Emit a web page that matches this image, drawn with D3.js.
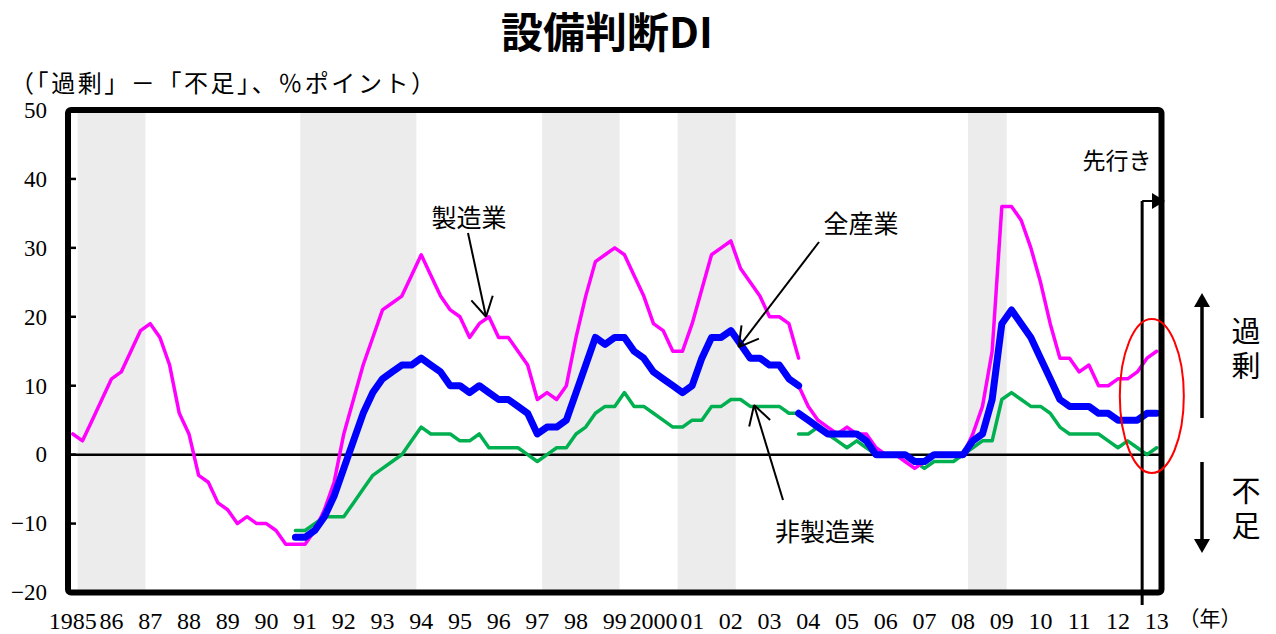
<!doctype html>
<html>
<head>
<meta charset="utf-8">
<style>
  body { margin: 0; background: #fff; }
  text.num { font-family: "Liberation Serif", "DejaVu Serif", serif; }
  text.jp { font-family: "Noto Sans CJK JP", sans-serif; }
</style>
</head>
<body>
<script src="https://cdn.jsdelivr.net/npm/d3@7"></script>
<script>
  // quarterly DI, 1985Q1 .. 2013Q1 (last point = forecast)
  var yearLabels = ['1985', '86', '87', '88', '89', '90', '91', '92', '93', '94', '95', '96', '97', '98',
                    '99', '2000', '01', '02', '03', '04', '05', '06', '07', '08', '09', '10', '11', '12', '13'];
  var yTicks = [50, 40, 30, 20, 10, 0, -10, -20];

  // recession periods (shaded)
  var recessions = [['1985Q2', '1986Q4'], ['1991Q1', '1993Q4'], ['1997Q2', '1999Q1'],
                    ['2000Q4', '2002Q1'], ['2008Q2', '2009Q1']];

  // old basis (to 2003Q4) and new basis (from 2003Q4)
  var mfgOld = [3, 2, 5, 8, 11, 12, 15, 18, 19, 17, 13, 6, 3, -3, -4, -7, -8, -10, -9, -10,
                -10, -11, -13, -13, -13, -11, -8, -4, 3, 8, 13, 17, 21, 22, 23, 26, 29, 26, 23, 21,
                20, 17, 19, 20, 17, 17, 15, 13, 8, 9, 8, 10, 17, 23, 28, 29, 30, 29, 26, 23,
                19, 18, 15, 15, 19, 24, 29, 30, 31, 27, 25, 23, 20, 20, 19, 14];
  var allOld = [-12, -12, -11, -9, -6, -2, 2, 6, 9, 11, 12, 13, 13, 14, 13, 12, 10, 10, 9, 10,
                9, 8, 8, 7, 6, 3, 4, 4, 5, 9, 13, 17, 16, 17, 17, 15, 14, 12, 11, 10,
                9, 10, 14, 17, 17, 18, 16, 14, 14, 13, 13, 11, 10];
  var nonOld = [-11, -11, -10, -9, -9, -9, -7, -5, -3, -2, -1, 0, 2, 4, 3, 3, 3, 2, 2, 3,
                1, 1, 1, 1, 0, -1, 0, 1, 1, 3, 4, 6, 7, 7, 9, 7, 7, 6, 5, 4,
                4, 5, 5, 7, 7, 8, 8, 7, 7, 7, 7, 6, 6];
  var mfgNew = [10, 7, 5, 4, 3, 4, 3, 3, 1, 0, 0, -1, -2, -1, 0, 0, 0, 0, 3, 7,
                15, 36, 36, 34, 30, 25, 19, 14, 14, 12, 13, 10, 10, 11, 11, 12, 14, 15];
  var allNew = [6, 5, 4, 3, 3, 3, 3, 2, 0, 0, 0, 0, -1, -1, 0, 0, 0, 0, 2, 3,
                8, 19, 21, 19, 17, 14, 11, 8, 7, 7, 7, 6, 6, 5, 5, 5, 6, 6];
  var nonNew = [3, 3, 4, 3, 2, 1, 2, 1, 0, 0, 0, 0, -1, -2, -1, -1, -1, 0, 1, 2,
                2, 8, 9, 8, 7, 7, 6, 4, 3, 3, 3, 3, 2, 1, 2, 1, 0, 1];

  var series = [
    {values: nonOld, start: '1990Q4', color: '#00B050', width: 3.5},
    {values: nonNew, start: '2003Q4', color: '#00B050', width: 3.5},
    {values: mfgOld, start: '1985Q1', color: '#FF00FF', width: 3.5},
    {values: mfgNew, start: '2003Q4', color: '#FF00FF', width: 3.5},
    {values: allOld, start: '1990Q4', color: '#0000FF', width: 7},
    {values: allNew, start: '2003Q4', color: '#0000FF', width: 7}
  ];

  var qIndex = function (s) {
    return (+s.slice(0, 4) - 1985) * 4 + (+s.slice(5) - 1);
  };

  var width = 1276, height = 634;
  var plotL = 68, plotR = 1161.5, plotT = 110, plotB = 592.5;

  var svg = d3.select('body').append('svg')
      .attr('width', width)
      .attr('height', height);

  var x = d3.scaleLinear().domain([-0.5, 112.5]).range([plotL, plotR]);
  var y = d3.scaleLinear().domain([-20, 50]).range([plotB, plotT]);

  // shaded bands
  svg.selectAll('rect.band')
      .data(recessions)
    .enter().append('rect')
      .attr('class', 'band')
      .attr('x', function (d) { return x(qIndex(d[0]) - 0.5); })
      .attr('width', function (d) { return x(qIndex(d[1]) + 0.5) - x(qIndex(d[0]) - 0.5); })
      .attr('y', plotT)
      .attr('height', plotB - plotT)
      .attr('fill', '#ececec');

  // zero line
  svg.append('line')
      .attr('x1', plotL).attr('x2', plotR)
      .attr('y1', y(0)).attr('y2', y(0))
      .attr('stroke', '#000').attr('stroke-width', 2.5);

  var line = d3.line()
      .x(function (d) { return x(d.q); })
      .y(function (d) { return y(d.v); });

  svg.selectAll('path.series')
      .data(series)
    .enter().append('path')
      .attr('class', 'series')
      .attr('d', function (s) {
        var q0 = qIndex(s.start);
        return line(s.values.map(function (v, i) { return {q: q0 + i, v: v}; }));
      })
      .attr('fill', 'none')
      .attr('stroke', function (s) { return s.color; })
      .attr('stroke-width', function (s) { return s.width; })
      .attr('stroke-linejoin', 'round')
      .attr('stroke-linecap', 'round');

  // plot border + inner ticks
  svg.append('rect')
      .attr('x', plotL).attr('y', plotT)
      .attr('width', plotR - plotL).attr('height', plotB - plotT)
      .attr('rx', 3)
      .attr('fill', 'none').attr('stroke', '#000').attr('stroke-width', 6);

  svg.selectAll('line.ytick')
      .data(yTicks.slice(1, -1))
    .enter().append('line')
      .attr('x1', plotL).attr('x2', plotL + 8)
      .attr('y1', function (d) { return y(d); })
      .attr('y2', function (d) { return y(d); })
      .attr('stroke', '#000').attr('stroke-width', 2.5);

  svg.selectAll('text.ylab')
      .data(yTicks)
    .enter().append('text')
      .attr('class', 'num')
      .attr('x', 47)
      .attr('y', function (d) { return y(d); })
      .attr('dy', '0.34em')
      .attr('text-anchor', 'end')
      .style('font-size', '23px')
      .text(function (d) { return d < 0 ? '\u2212' + (-d) : d; });

  svg.selectAll('text.xlab')
      .data(yearLabels)
    .enter().append('text')
      .attr('class', 'num')
      .attr('x', function (d, i) { return x(i * 4); })
      .attr('y', 621)
      .attr('dy', '0.34em')
      .attr('text-anchor', 'middle')
      .style('font-size', '24px')
      .text(function (d) { return d; });

  svg.append('text')
      .attr('class', 'jp')
      .attr('x', 1210).attr('y', 618).attr('dy', '0.36em')
      .attr('text-anchor', 'middle')
      .style('font-size', '21px')
      .text('（年）');

  // titles
  svg.append('text')
      .attr('class', 'jp')
      .attr('x', 607).attr('y', 33).attr('dy', '0.36em')
      .attr('text-anchor', 'middle')
      .style('font-size', '42px').style('font-weight', 'bold')
      .text('設備判断DI');

  svg.append('text')
      .attr('class', 'jp')
      .attr('x', 10).attr('y', 83).attr('dy', '0.36em')
      .attr('textLength', 425).attr('lengthAdjust', 'spacing')
      .style('font-size', '24px')
      .text('（「過剰」－「不足」、％ポイント）');

  // callouts
  var arrowHead = function (g, x1, y1, x2, y2, len, ang) {
    var a = Math.atan2(y1 - y2, x1 - x2);
    [-ang, ang].forEach(function (da) {
      g.append('line')
          .attr('x1', x2).attr('y1', y2)
          .attr('x2', x2 + len * Math.cos(a + da))
          .attr('y2', y2 + len * Math.sin(a + da))
          .attr('stroke', '#000').attr('stroke-width', 2);
    });
  };

  var callouts = [
    {label: '製造業', tx: 469, ty: 218, x1: 468, y1: 233, q: 42.7, v: 20},
    {label: '全産業', tx: 861, ty: 224, x1: 819, y1: 242, q: 68.8, v: 15.6},
    {label: '非製造業', tx: 825, ty: 532, x1: 783, y1: 500, q: 70.4, v: 7.2}
  ];

  callouts.forEach(function (c) {
    var g = svg.append('g');
    var x2 = x(c.q), y2 = y(c.v);
    g.append('line')
        .attr('x1', c.x1).attr('y1', c.y1)
        .attr('x2', x2).attr('y2', y2)
        .attr('stroke', '#000').attr('stroke-width', 2);
    arrowHead(g, c.x1, c.y1, x2, y2, 22, 0.52);
    g.append('text')
        .attr('class', 'jp')
        .attr('x', c.tx).attr('y', c.ty).attr('dy', '0.36em')
        .attr('text-anchor', 'middle')
        .style('font-size', '25px')
        .text(c.label);
  });

  // forecast marker
  var fx = x(110.5);
  svg.append('line')
      .attr('x1', fx).attr('x2', fx)
      .attr('y1', 201).attr('y2', 605)
      .attr('stroke', '#000').attr('stroke-width', 3);
  svg.append('line')
      .attr('x1', fx).attr('x2', 1156)
      .attr('y1', 201).attr('y2', 201)
      .attr('stroke', '#000').attr('stroke-width', 2);
  svg.append('path')
      .attr('d', 'M1152,193 L1165,201 L1152,209 Z')
      .attr('fill', '#000');
  svg.append('text')
      .attr('class', 'jp')
      .attr('x', 1117).attr('y', 161).attr('dy', '0.36em')
      .attr('text-anchor', 'middle')
      .style('font-size', '23px')
      .text('先行き');

  svg.append('ellipse')
      .attr('cx', x(111.5)).attr('cy', y(8.5))
      .attr('rx', 32).attr('ry', 77)
      .attr('fill', 'none').attr('stroke', '#ff0000').attr('stroke-width', 2);

  // excess / shortage arrows
  var ax = 1202;
  svg.append('line').attr('x1', ax).attr('x2', ax).attr('y1', 305).attr('y2', 418)
      .attr('stroke', '#000').attr('stroke-width', 3.5);
  svg.append('path').attr('d', 'M' + (ax - 8) + ',307 L' + ax + ',293 L' + (ax + 8) + ',307 Z').attr('fill', '#000');
  svg.append('line').attr('x1', ax).attr('x2', ax).attr('y1', 462).attr('y2', 541)
      .attr('stroke', '#000').attr('stroke-width', 3.5);
  svg.append('path').attr('d', 'M' + (ax - 8) + ',539 L' + ax + ',553 L' + (ax + 8) + ',539 Z').attr('fill', '#000');

  // vertical captions
  [['過剰', 351], ['不足', 511]].forEach(function (d) {
    svg.append('text')
        .attr('class', 'jp')
        .attr('x', 1246).attr('y', d[1])
        .attr('text-anchor', 'middle')
        .style('writing-mode', 'vertical-rl')
        .style('letter-spacing', '6px')
        .style('font-size', '29px')
        .text(d[0]);
  });
</script>
</body>
</html>
